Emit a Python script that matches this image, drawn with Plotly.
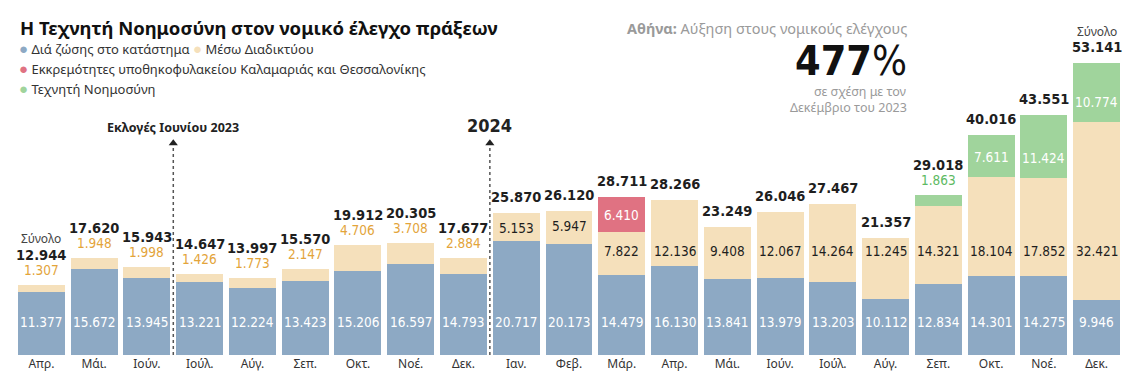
import plotly.graph_objects as go

# ---------------- data ----------------
months = ["Απρ.", "Μάι.", "Ιούν.", "Ιούλ.", "Αύγ.", "Σεπ.", "Οκτ.", "Νοέ.", "Δεκ.",
          "Ιαν.", "Φεβ.", "Μάρ.", "Απρ.", "Μάι.", "Ιούν.", "Ιούλ.", "Αύγ.", "Σεπ.",
          "Οκτ.", "Νοέ.", "Δεκ."]
in_store = [11377, 15672, 13945, 13221, 12224, 13423, 15206, 16597, 14793,
            20717, 20173, 14479, 16130, 13841, 13979, 13203, 10112, 12834,
            14301, 14275, 9946]
online = [1307, 1948, 1998, 1426, 1773, 2147, 4706, 3708, 2884,
          5153, 5947, 7822, 12136, 9408, 12067, 14264, 11245, 14321,
          18104, 17852, 32421]
pending = [None] * 11 + [6410] + [None] * 9
ai = [None] * 17 + [1863, 7611, 11424, 10774]
totals = [12944, 17620, 15943, 14647, 13997, 15570, 19912, 20305, 17677,
          25870, 26120, 28711, 28266, 23249, 26046, 27467, 21357, 29018,
          40016, 43551, 53141]

# ---------------- style ----------------
C_BLUE = "#8DA9C4"
C_BEIGE = "#F5E0BB"
C_RED = "#E07282"
C_GREEN = "#A0D49C"
C_ORANGE = "#E3A43A"
C_GREENTXT = "#5DBA62"
DARK = "#1E1E1E"
GREY = "#9A9A9A"
NUM_FONT = "Liberation Sans Narrow, DejaVu Sans Condensed, Roboto Condensed, Roboto, sans-serif"
TXT_FONT = "Noto Sans, Open Sans, sans-serif"

W, H = 1130, 389
ML, MR, MT, MB = 15, 7, 25, 34
YMAX = 60000


def fmt(v):
    return f"{v:,}".replace(",", ".")


def py(px):  # pixel (from top) -> paper y
    return (H - MB - px) / (H - MT - MB)


def px_x(px):  # pixel (from left) -> paper x
    return (px - ML) / (W - ML - MR)


x = list(range(len(months)))
fig = go.Figure()
for name, vals, col in [("Διά ζώσης στο κατάστημα", in_store, C_BLUE),
                        ("Μέσω Διαδικτύου", online, C_BEIGE),
                        ("Εκκρεμότητες", pending, C_RED),
                        ("Τεχνητή Νοημοσύνη", ai, C_GREEN)]:
    fig.add_trace(go.Bar(x=x, y=vals, name=name, marker=dict(color=col, line=dict(width=0)),
                         showlegend=False, hoverinfo="skip"))

ann = []


def add(xv, yv, text, color, size, yshift=0, font=NUM_FONT, bold=False):
    t = f"<b>{text}</b>" if bold else text
    ann.append(dict(x=xv, y=yv, xref="x", yref="y", text=t, showarrow=False,
                    yshift=yshift, xanchor="center", yanchor="middle",
                    font=dict(family=font, size=size, color=color)))


for i in x:
    stack_top = sum(v for v in (in_store[i], online[i], pending[i], ai[i]) if v)
    # blue labels
    add(i, 0, fmt(in_store[i]), "white", 13.5, yshift=33)
    # online labels
    sub_above = False
    if i <= 8:
        add(i, stack_top, fmt(online[i]), C_ORANGE, 13.5, yshift=15)
        sub_above = True
    elif i <= 10:
        add(i, in_store[i] + online[i], fmt(online[i]), DARK, 13.5, yshift=-15)
    else:
        add(i, 0, fmt(online[i]), DARK, 13.5, yshift=104)
    # pending
    if pending[i]:
        add(i, in_store[i] + online[i] + pending[i] / 2, fmt(pending[i]), "white", 13.5)
    # ai
    if ai[i]:
        if ai[i] < 3000:
            add(i, stack_top, fmt(ai[i]), C_GREENTXT, 13.5, yshift=15)
            sub_above = True
        else:
            add(i, in_store[i] + online[i], fmt(ai[i]), "white", 13.5, yshift=20)
    # totals
    add(i, stack_top, fmt(totals[i]), DARK, 14.5, yshift=30 if sub_above else 16, bold=True)

# "Σύνολο" labels
add(0, in_store[0] + online[0], "Σύνολο", "#444", 12, yshift=47, font=TXT_FONT)
add(20, totals[20], "Σύνολο", "#444", 12, yshift=31, font=TXT_FONT)

# event markers
ARROW_Y = 38500
for xv, label, size in [(2.5, "Εκλογές Ιουνίου 2023", 12.5), (8.5, "2024", 18)]:
    fig.add_shape(type="line", x0=xv, x1=xv, y0=0, y1=ARROW_Y - 800, xref="x", yref="y",
                  line=dict(color="#555", width=1.5, dash="dot"))
    fig.add_trace(go.Scatter(x=[xv], y=[ARROW_Y], mode="markers", showlegend=False,
                             hoverinfo="skip",
                             marker=dict(symbol="triangle-up", size=8, color="#222")))
    ann.append(dict(x=xv, y=ARROW_Y, xref="x", yref="y", yshift=18 if size > 15 else 16,
                    text=f"<b>{label}</b>", showarrow=False,
                    xanchor="center", yanchor="middle",
                    font=dict(family=TXT_FONT if size < 15 else NUM_FONT, size=size, color="#222")))

# title & legend
ann.append(dict(x=px_x(18), y=py(28), xref="paper", yref="paper", xanchor="left", yanchor="middle",
                text="<b>Η Τεχνητή Νοημοσύνη στον νομικό έλεγχο πράξεων</b>", showarrow=False,
                font=dict(family=TXT_FONT, size=18.5, color="#111")))
legend_rows = [
    [("Διά ζώσης στο κατάστημα", C_BLUE), ("Μέσω Διαδικτύου", C_BEIGE)],
    [("Εκκρεμότητες υποθηκοφυλακείου Καλαμαριάς και Θεσσαλονίκης", C_RED)],
    [("Τεχνητή Νοημοσύνη", C_GREEN)],
]
for r, row in enumerate(legend_rows):
    txt = " ".join(f"<span style='color:{c};font-size:15px'>●</span> {n}" for n, c in row)
    ann.append(dict(x=px_x(17), y=py(48 + r * 20), xref="paper", yref="paper",
                    xanchor="left", yanchor="middle", text=txt, showarrow=False,
                    font=dict(family=TXT_FONT, size=13, color="#333")))

# right-hand highlight
RX = px_x(909)
ann += [
    dict(x=RX, y=py(28), xref="paper", yref="paper", xanchor="right", yanchor="middle",
         text="<b>Αθήνα:</b> Αύξηση στους νομικούς ελέγχους", showarrow=False,
         font=dict(family=TXT_FONT, size=14.5, color=GREY)),
    dict(x=RX, y=py(61), xref="paper", yref="paper", xanchor="right", yanchor="middle",
         text="<b>477</b>%", showarrow=False,
         font=dict(family=NUM_FONT, size=41, color="#111")),
    dict(x=RX, y=py(92), xref="paper", yref="paper", xanchor="right", yanchor="middle",
         text="σε σχέση με τον", showarrow=False,
         font=dict(family=TXT_FONT, size=12.5, color=GREY)),
    dict(x=RX, y=py(107), xref="paper", yref="paper", xanchor="right", yanchor="middle",
         text="Δεκέμβριο του 2023", showarrow=False,
         font=dict(family=TXT_FONT, size=12.5, color=GREY)),
]

fig.update_layout(
    width=W, height=H, margin=dict(l=ML, r=MR, t=MT, b=MB),
    paper_bgcolor="white", plot_bgcolor="white",
    barmode="stack", bargap=0.11,
    annotations=ann,
    xaxis=dict(range=[-0.5, len(months) - 0.5], tickmode="array", tickvals=x, ticktext=months,
               showgrid=False, zeroline=False, showline=False, ticks="",
               tickfont=dict(family=TXT_FONT, size=12, color="#333"), fixedrange=True),
    yaxis=dict(range=[0, YMAX], visible=False, fixedrange=True),
)
fig.write_html("out.html", config={"displayModeBar": False},
               post_script="document.body.style.margin='0px';document.body.style.overflow='hidden';")
